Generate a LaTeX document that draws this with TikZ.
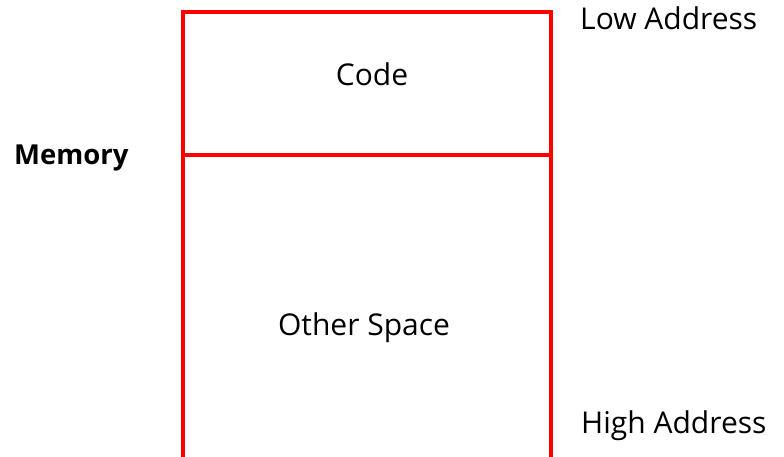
\documentclass[tikz,border=0pt]{standalone}
\usepackage{fontspec}
\setmainfont{Open Sans}
\begin{document}
\begin{tikzpicture}[x=1pt,y=-1pt,
  wall/.style={draw=red, line width=3.5pt, line join=miter},
  lbl/.style={font=\fontsize{30}{33}\selectfont, inner sep=0pt, anchor=base west},
  clbl/.style={font=\fontsize{30}{33}\selectfont, inner sep=0pt, anchor=base},
  blbl/.style={font=\fontsize{27.5}{30}\selectfont\bfseries, inner sep=0pt, anchor=base west}]
\useasboundingbox[fill=white] (0,0) rectangle (784,456);
\coordinate (bl) at (183,462);
\coordinate (tl) at (183,12);
\coordinate (tr) at (551,12);
\coordinate (br) at (551,462);
\coordinate (ml) at (183,155);
\coordinate (mr) at (551,155);
\draw[wall] (bl) -- (tl) -- (tr) -- (br);
\draw[wall] (ml) -- (mr);
\node[clbl] (code) at (372,85) {Code};
\node[clbl] (other) at (364,335) {Other Space};
\node[lbl] (low) at (580,29) {Low Address};
\node[lbl] (high) at (581,433) {High Address};
\node[blbl] (mem) at (14,164) {Memory};
\end{tikzpicture}
\end{document}
